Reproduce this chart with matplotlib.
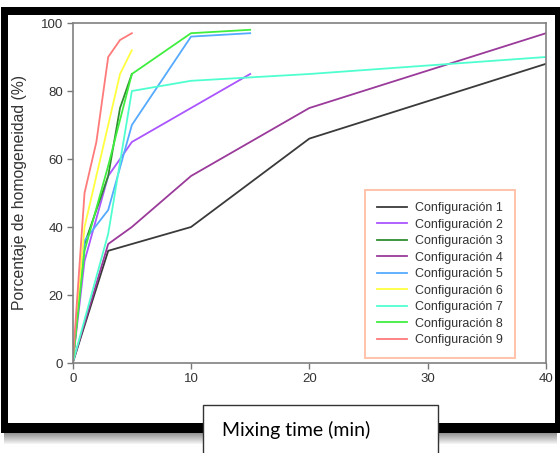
import matplotlib
matplotlib.use("Agg")
import matplotlib.pyplot as plt
from matplotlib.patches import Rectangle

# ---- data ----
labels = ["Configuración 1", "Configuración 2", "Configuración 3", "Configuración 4",
          "Configuración 5", "Configuración 6", "Configuración 7", "Configuración 8",
          "Configuración 9"]
t1 = [0, 3, 10, 20, 40];          y1 = [0, 33, 40, 66, 88]
t2 = [0, 1, 3, 5, 10, 15];        y2 = [0, 30, 55, 65, 75, 85]
t3 = [0, 1, 3, 4, 5];             y3 = [0, 35, 55, 75, 85]
t4 = [0, 3, 5, 10, 20, 40];       y4 = [0, 35, 40, 55, 75, 97]
t5 = [0, 1, 3, 5, 10, 15];        y5 = [0, 36, 45, 70, 96, 97]
t6 = [0, 1, 4, 5];                y6 = [0, 40, 85, 92]
t7 = [0, 3, 5, 10, 20, 40];       y7 = [0, 38, 80, 83, 85, 90]
t8 = [0, 1, 3, 5, 10, 15];        y8 = [0, 33, 58, 85, 97, 98]
t9 = [0, 1, 2, 3, 4, 5];          y9 = [0, 50, 65, 90, 95, 97]
xs = [t1, t2, t3, t4, t5, t6, t7, t8, t9]
ys = [y1, y2, y3, y4, y5, y6, y7, y8, y9]
colors = ["#3a3a3a", "#aa55ff", "#2f8f2f", "#9a3a9a", "#55aaff",
          "#ffff40", "#50ffd0", "#40ee40", "#ff7a7a"]
xticks = [0, 10, 20, 30, 40]
yticks = [0, 20, 40, 60, 80, 100]

plt.rcParams['font.family'] = ['Liberation Sans', 'DejaVu Sans']

fig = plt.figure(figsize=(5.6, 4.53), dpi=100)
W, H = 560, 453

# black frame and shadow (behind axes)
for i in range(12):
    g = 0.55 + 0.4 * i / 11
    fig.patches.append(Rectangle((4 / W, (H - 433 - i) / H), 553 / W, 1 / H,
                                 transform=fig.transFigure, facecolor=(g, g, g),
                                 edgecolor='none', zorder=-3))
fig.patches.append(Rectangle((1 / W, (H - 433) / H), 559 / W, 426 / H,
                             transform=fig.transFigure, facecolor='black',
                             edgecolor='none', zorder=-2))
fig.patches.append(Rectangle((8 / W, (H - 423) / H), 547 / W, 408 / H,
                             transform=fig.transFigure, facecolor='white',
                             edgecolor='none', zorder=-1))

ax = fig.add_axes([72.7 / W, (H - 363) / H, (546 - 72.7) / W, (363 - 23) / H])
ax.set_zorder(1)
ax.set_facecolor('white')
for x, y, c, lab in zip(xs, ys, colors, labels):
    ax.plot(x, y, color=c, lw=1.3, label=lab)

ax.set_xlim(0, 40)
ax.set_ylim(0, 100)
ax.set_xticks(xticks)
ax.set_yticks(yticks)
ax.tick_params(direction='out', length=4, width=1, color='#777777',
               labelsize=9.5, labelcolor='#333333', pad=3)
for s in ax.spines.values():
    s.set_color('#808080')
    s.set_linewidth(1.2)
ax.set_ylabel("Porcentaje de homogeneidad (%)", fontsize=11.3, color='#333333')
ax.yaxis.set_label_coords(-(72.7 - 27) / 473.3, 0.5)

leg = ax.legend(loc='lower left', bbox_to_anchor=(0.618, 0.015), fontsize=9,
                fancybox=False, handlelength=2.4, borderpad=0.95,
                labelspacing=0.36, handletextpad=0.65, borderaxespad=0)
leg.get_frame().set_edgecolor('#ffb494')
leg.get_frame().set_linewidth(1.4)
for txt in leg.get_texts():
    txt.set_color('#333333')

# "Mixing time (min)" box
fig.patches.append(Rectangle((203 / W, -0.01), 235 / W, (H - 405) / H + 0.01,
                             transform=fig.transFigure, facecolor='white',
                             edgecolor='#333333', linewidth=1.0, zorder=5))
fig.text(222 / W, (H - 430) / H, "Mixing time (min)", fontsize=14,
         family=['Lato', 'DejaVu Sans'], va='center', ha='left', zorder=6)

fig.savefig("out.png", dpi=100)
